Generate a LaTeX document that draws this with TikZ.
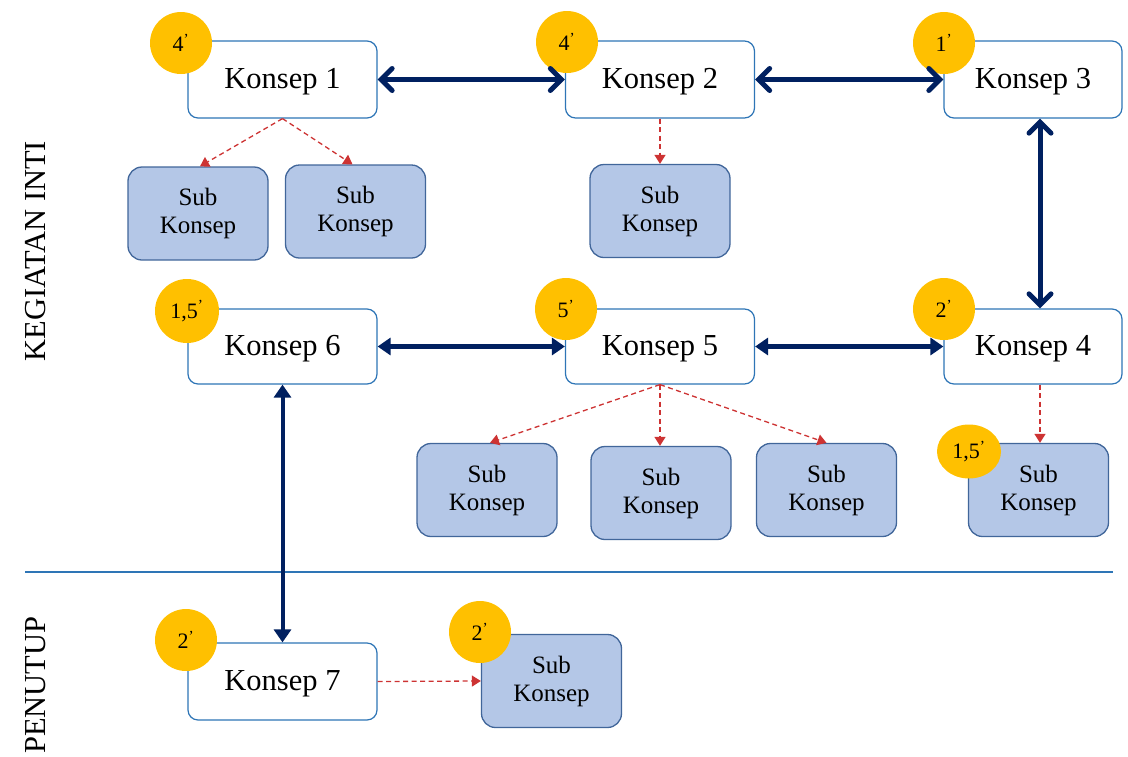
\documentclass[tikz,border=0pt]{standalone}
\usepackage{fontspec}
\setmainfont{Liberation Serif}
\usetikzlibrary{arrows.meta,shapes.geometric}
\definecolor{navy}{HTML}{002060}
\definecolor{kborder}{HTML}{2E75B6}
\definecolor{sfill}{HTML}{B4C7E7}
\definecolor{sborder}{HTML}{41669A}
\definecolor{gold}{HTML}{FFC000}
\definecolor{dred}{HTML}{C00000}
\begin{document}
\begin{tikzpicture}[x=1pt,y=-1pt,
  konsep/.style={draw=kborder,line width=1.2pt,fill=white,rounded corners=10pt,minimum width=189pt,minimum height=77pt,inner sep=0pt,text depth=2pt,font=\fontsize{30.5}{32}\selectfont},
  subk/.style={draw=sborder,line width=1.3pt,fill=sfill,rounded corners=14pt,minimum width=140pt,minimum height=93pt,inner sep=0pt,align=center,font=\fontsize{25}{28}\selectfont},
  dot/.style={fill=gold,circle,minimum size=62pt,inner sep=0pt,font=\fontsize{22}{23}\selectfont},
  open/.style={draw=navy,line width=5pt,{Straight Barb[length=11pt,width=22pt,line cap=round]}-{Straight Barb[length=11pt,width=22pt,line cap=round]}},
  solid/.style={draw=navy,line width=4.5pt,{Triangle[length=13pt,width=17pt]}-{Triangle[length=13pt,width=17pt]}},
  sub/.style={draw=dred!80,line width=1.3pt,dash pattern=on 5pt off 3.5pt,-{Triangle[length=9pt,width=11pt]}},
  side/.style={rotate=90,font=\fontsize{30.5}{32}\selectfont}
]
\useasboundingbox (0,0) rectangle (1128,756);

% section line
\coordinate (la) at (25,572);
\coordinate (lb) at (1113,572);
\draw[kborder,line width=1.2pt] (la) -- (lb);

% side labels
\node[side] (kin) at (36,251) {KEGIATAN INTI};
\node[side,anchor=west,inner sep=1pt] (pen) at (36,755) {PENUTUP};

% main concept boxes
\node[konsep] (k1) at (282.5,79.5) {Konsep 1};
\node[konsep] (k2) at (660,79.5) {Konsep 2};
\node[konsep,minimum width=178pt] (k3) at (1033,79.5) {Konsep 3};
\node[konsep,minimum height=75pt] (k6) at (282.5,346.5) {Konsep 6};
\node[konsep,minimum height=75pt] (k5) at (660,346.5) {Konsep 5};
\node[konsep,minimum width=178pt,minimum height=75pt] (k4) at (1033,346.5) {Konsep 4};
\node[konsep] (k7) at (282.5,681.5) {Konsep 7};

% sub concept boxes
\node[subk] (s1a) at (198,213.5) {Sub\\Konsep};
\node[subk] (s1b) at (355.5,211.5) {Sub\\Konsep};
\node[subk] (s2) at (660,211) {Sub\\Konsep};
\node[subk] (s5a) at (487,490) {Sub\\Konsep};
\node[subk] (s5b) at (661,493) {Sub\\Konsep};
\node[subk] (s5c) at (826.5,490) {Sub\\Konsep};
\node[subk] (s4) at (1038.5,490) {Sub\\Konsep};
\node[subk] (s7) at (551.5,681) {Sub\\Konsep};

% time circles
\node[dot] (c1) at (181,43) {4\textsuperscript{’}};
\node[dot] (c2) at (567,42) {4\textsuperscript{’}};
\node[dot] (c3) at (944,43) {1\textsuperscript{’}};
\node[dot,minimum size=64pt] (c6) at (187,311) {1,5\textsuperscript{’}};
\node[dot] (c5) at (566,309) {5\textsuperscript{’}};
\node[dot] (c4) at (944,309) {2\textsuperscript{’}};
\node[dot,ellipse,minimum width=64pt,minimum height=54pt] (c4s) at (969,451.5) {1,5\textsuperscript{’}};
\node[dot] (c7) at (186,640) {2\textsuperscript{’}};
\node[dot] (c7s) at (480,632) {2\textsuperscript{’}};

% thick navy connectors
\draw[open] (k1.east) -- (k2.west);
\draw[open] (k2.east) -- (k3.west);
\draw[open] ([xshift=7pt]k3.south) -- ([xshift=7pt]k4.north);
\draw[solid] (k6.east) -- (k5.west);
\draw[solid] (k5.east) -- (k4.west);
\draw[solid,line width=4pt] (k6.south) -- (k7.north);

% red dashed connectors
\draw[sub] (k1.south) -- ([xshift=2pt]s1a.north);
\draw[sub] (k1.south) -- ([xshift=-3pt]s1b.north);
\draw[sub] (k2.south) -- (s2.north);
\draw[sub] (k5.south) -- ([xshift=3pt]s5a.north);
\draw[sub] (k5.south) -- ([xshift=-1pt]s5b.north);
\draw[sub] (k5.south) -- (s5c.north);
\draw[sub] ([xshift=7pt]k4.south) -- ([xshift=1.5pt]s4.north);
\draw[sub] (k7.east) -- (s7.west);
\end{tikzpicture}
\end{document}
